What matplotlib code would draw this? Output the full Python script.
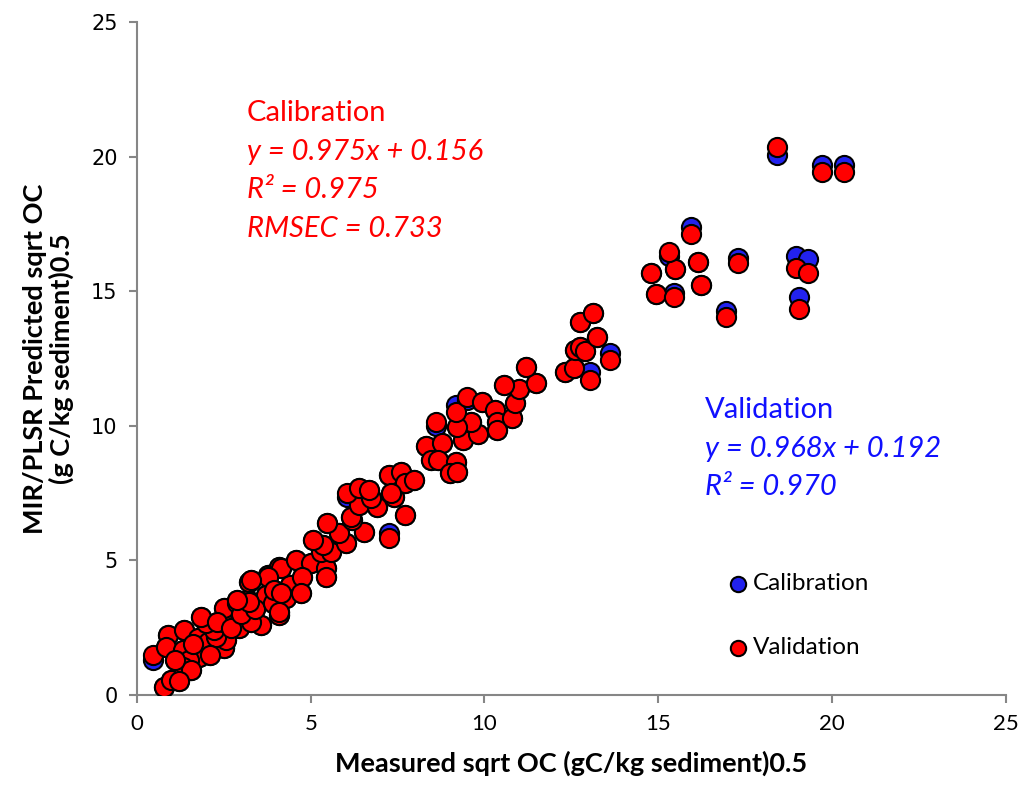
import matplotlib.pyplot as plt

# measured sqrt OC, and predicted values (calibration fit / validation)
measured = [0.45, 0.78, 0.98, 0.88, 0.83, 1.31, 1.79, 1.50, 1.31, 1.36,
            1.74, 2.03, 2.51, 2.56, 2.27, 2.22, 1.98, 1.84, 2.46, 2.94,
            3.56, 3.28, 4.09, 2.51, 2.89, 3.18, 3.71, 4.09, 3.23, 3.76,
            4.09, 1.55, 1.09, 1.20, 1.60, 2.10, 2.30, 2.70, 3.00, 3.40,
            3.90, 4.40, 4.30, 4.14, 4.57, 5.00, 4.76, 3.76, 3.28, 3.95,
            4.71, 4.14, 3.23, 4.09, 2.89, 5.43, 5.43, 5.29, 5.57, 5.34,
            5.05, 6.00, 5.81, 6.53, 6.20, 5.48, 7.25, 6.15, 7.70, 6.39,
            6.92, 6.72, 6.05, 6.39, 6.68, 7.39, 7.25, 7.59, 7.70, 7.97,
            7.30, 8.33, 8.78, 8.45, 8.66, 9.17, 9.02, 9.21, 9.39, 9.82,
            9.60, 9.21, 8.59, 9.17, 9.50, 9.93, 10.30, 10.36, 10.36, 10.80,
            10.89, 11.00, 10.55, 11.49, 11.20, 12.33, 12.57, 13.03, 12.60, 12.76,
            12.90, 13.60, 13.24, 12.76, 13.11, 14.80, 14.93, 15.46, 15.49, 15.32,
            15.94, 16.14, 16.24, 16.95, 17.29, 18.42, 18.97, 19.05, 19.32, 19.71,
            20.34]

calibration = [1.30, 0.31, 0.56, 2.23, 1.79, 1.67, 1.42, 1.30, 1.05, 2.41,
               2.10, 1.98, 1.73, 2.04, 2.17, 2.41, 2.66, 2.91, 2.72, 2.48,
               2.60, 2.72, 2.97, 3.22, 3.41, 3.53, 3.71, 3.78, 4.21, 4.46,
               4.77, 0.93, 1.30, 0.50, 1.90, 1.50, 2.70, 2.50, 3.00, 3.20,
               3.40, 4.10, 3.60, 4.71, 5.01, 4.89, 4.39, 4.39, 4.27, 3.90,
               3.78, 3.78, 3.47, 3.09, 3.53, 4.71, 4.39, 5.32, 5.32, 5.57,
               5.76, 5.63, 6.00, 6.07, 6.50, 6.38, 6.00, 6.62, 6.69, 7.06,
               6.99, 7.30, 7.35, 7.68, 7.62, 7.37, 8.17, 8.30, 7.86, 7.99,
               7.49, 9.25, 9.35, 8.73, 8.73, 8.67, 8.24, 8.30, 9.47, 9.70,
               10.15, 9.97, 10.00, 10.77, 10.95, 10.90, 10.59, 10.15, 9.84, 10.28,
               10.86, 11.36, 11.52, 11.60, 12.17, 12.01, 12.14, 12.00, 12.82, 12.94,
               12.79, 12.69, 13.29, 13.87, 14.20, 15.69, 14.88, 14.95, 15.81, 16.30,
               17.37, 16.07, 15.23, 14.26, 16.22, 20.06, 16.30, 14.80, 16.18, 19.69,
               19.69]

validation = [1.49, 0.31, 0.56, 2.23, 1.79, 1.67, 1.42, 1.30, 1.05, 2.41,
              2.10, 1.98, 1.73, 2.04, 2.17, 2.41, 2.66, 2.91, 2.72, 2.48,
              2.60, 2.72, 2.97, 3.22, 3.41, 3.53, 3.71, 3.78, 4.21, 4.46,
              4.77, 0.93, 1.30, 0.50, 1.90, 1.50, 2.70, 2.50, 3.00, 3.20,
              3.40, 4.10, 3.60, 4.71, 5.01, 4.89, 4.39, 4.39, 4.27, 3.90,
              3.78, 3.78, 3.47, 3.09, 3.53, 4.71, 4.39, 5.32, 5.32, 5.57,
              5.76, 5.63, 6.00, 6.07, 6.50, 6.38, 5.82, 6.62, 6.69, 7.06,
              6.99, 7.30, 7.49, 7.68, 7.62, 7.37, 8.17, 8.30, 7.86, 7.99,
              7.49, 9.25, 9.35, 8.73, 8.73, 8.67, 8.24, 8.30, 9.47, 9.70,
              10.15, 9.97, 10.15, 10.52, 11.08, 10.90, 10.59, 10.15, 9.84, 10.28,
              10.86, 11.36, 11.52, 11.60, 12.17, 12.01, 12.14, 11.70, 12.82, 12.94,
              12.79, 12.44, 13.29, 13.87, 14.20, 15.69, 14.88, 14.80, 15.81, 16.47,
              17.11, 16.07, 15.23, 14.05, 16.04, 20.36, 15.85, 14.34, 15.69, 19.44,
              19.44]

cal_text = ['y = 0.975x + 0.156', 'R² = 0.975', 'RMSEC = 0.733']
val_text = ['y = 0.968x + 0.192', 'R² = 0.970']

fig = plt.figure(figsize=(10.23, 7.87), dpi=100)
ax = fig.add_axes([0.134, 0.117, 0.849, 0.855])

ax.scatter(measured, calibration, s=190, c='#2222ee', edgecolors='black',
           linewidths=1.5, label='Calibration', zorder=3)
ax.scatter(measured, validation, s=190, c='#ff0000', edgecolors='black',
           linewidths=1.5, label='Validation', zorder=4)

ax.set_xlim(0, 25)
ax.set_ylim(0, 25)
ax.set_xticks([0, 5, 10, 15, 20, 25])
ax.set_yticks([0, 5, 10, 15, 20, 25])

for side in ['top', 'right']:
    ax.spines[side].set_visible(False)
for side in ['left', 'bottom']:
    ax.spines[side].set_color('#868686')
    ax.spines[side].set_linewidth(1.5)
ax.tick_params(direction='out', length=6, width=1.5, color='#868686', pad=8)
for lab in ax.get_xticklabels():
    lab.set_fontfamily('Lato')
    lab.set_fontsize(16)
for lab in ax.get_yticklabels():
    lab.set_fontfamily('DejaVu Sans')
    lab.set_fontsize(15)

ax.set_xlabel('Measured sqrt OC (gC/kg sediment)0.5', fontsize=19.5,
              fontweight='bold', family='Lato', labelpad=12)
ax.set_ylabel('MIR/PLSR Predicted sqrt OC\n(g C/kg sediment)0.5', fontsize=19.5,
              fontweight='bold', family='Lato', labelpad=12, linespacing=1.1)

# annotations, one line each
ax.text(0.126, 0.865, 'Calibration', transform=ax.transAxes, color='red',
        fontsize=21, family='Lato', va='center')
for i, line in enumerate(cal_text):
    ax.text(0.126, 0.807 - 0.057 * i, line, transform=ax.transAxes,
            color='red', fontsize=21, family='Lato', style='italic',
            va='center')
ax.text(0.654, 0.423, 'Validation', transform=ax.transAxes, color='#1010ff',
        fontsize=21, family='Lato', va='center')
for i, line in enumerate(val_text):
    ax.text(0.654, 0.366 - 0.057 * i, line, transform=ax.transAxes,
            color='#1010ff', fontsize=21, family='Lato', style='italic',
            va='center')

leg = ax.legend(loc='upper left', bbox_to_anchor=(0.662, 0.195), frameon=False,
                prop={'family': 'Lato', 'size': 17.5},
                markerscale=0.8, handletextpad=0.0, labelspacing=1.75,
                borderaxespad=0, handlelength=1.3)

fig.savefig('out.png', dpi=100)
